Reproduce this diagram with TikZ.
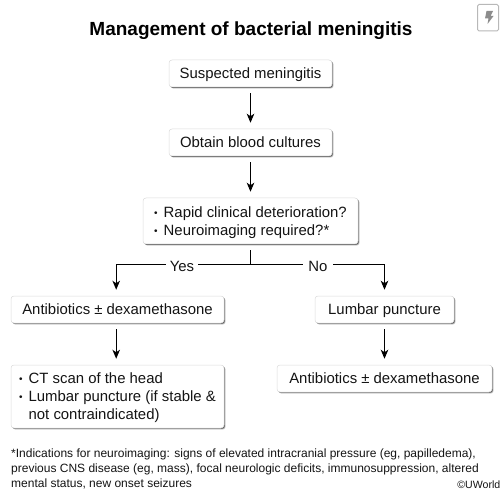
\documentclass[tikz,border=0pt]{standalone}
\usepackage{fontspec}
\setmainfont{Liberation Sans}
\usetikzlibrary{arrows.meta,shadows,calc}
\definecolor{txt}{gray}{0.08}
\tikzset{
  x=1pt,y=1pt,
  flowbox/.style={draw=black!14,line width=0.5pt,fill=white,rounded corners=3pt,inner sep=0pt,
    font=\fontsize{14.9}{18}\selectfont,text=txt,
    drop shadow={shadow xshift=1.7pt,shadow yshift=-1.7pt,opacity=0.14,fill=black},
    drop shadow={shadow xshift=1.2pt,shadow yshift=-1.2pt,opacity=0.28,fill=black},
    drop shadow={shadow xshift=0.7pt,shadow yshift=-0.7pt,opacity=0.45,fill=black}},
  oneline/.style={text height=11.7pt,text depth=2.1pt},
  flowarrow/.style={draw=black,line width=1pt,-{Stealth[length=9pt,width=7.5pt,inset=2.5pt]}},
  flowline/.style={draw=black,line width=1pt},
  branch/.style={fill=white,inner xsep=4pt,inner ysep=1pt,text height=10.7pt,text depth=0pt,font=\fontsize{14.9}{18}\selectfont,text=txt},
  note/.style={inner sep=0pt,anchor=north west,align=left,text=txt,font=\fontsize{12}{14.6}\selectfont},
}
\newcommand{\bul}{\makebox[9.5pt][l]{\raisebox{1pt}{\fontsize{10}{10}\selectfont •}}}
\newcommand{\lowerfirst}{\rule{0pt}{14pt}}
\begin{document}
\begin{tikzpicture}
\useasboundingbox[fill=white] (0,0) rectangle (503,-494);
\node[inner sep=0pt,font=\fontsize{19}{22}\selectfont\bfseries] (title) at (251,-31) {Management of bacterial meningitis};

\node[flowbox,oneline,minimum width=163pt,minimum height=27pt] (a) at (250.5,-73.5) {Suspected meningitis};
\node[flowbox,oneline,minimum width=163pt,minimum height=27pt] (b) at (250.5,-142.5) {Obtain blood cultures};
\node[flowbox,minimum width=215pt,minimum height=46pt,align=left] (c) at (250.5,-221)
  {\lowerfirst\bul Rapid clinical deterioration?\\\bul Neuroimaging required?*};
\node[flowbox,oneline,minimum width=213pt,minimum height=27pt] (d) at (117.5,-309.5) {Antibiotics ± dexamethasone};
\node[flowbox,oneline,minimum width=139pt,minimum height=27pt] (e) at (384.5,-309.5) {Lumbar puncture};
\node[flowbox,minimum width=213pt,minimum height=63pt,align=left] (f) at (117.5,-396.5)
  {\lowerfirst\bul CT scan of the head\\\bul Lumbar puncture (if stable \&\\\hspace*{9.5pt}not contraindicated)};
\node[flowbox,oneline,minimum width=215pt,minimum height=27pt] (g) at (384.5,-378.5) {Antibiotics ± dexamethasone};

\coordinate (split) at (250.5,-265);
\draw[flowarrow,shorten <=6pt,shorten >=6pt] (a) -- (b);
\draw[flowarrow,shorten <=6pt,shorten >=6pt] (b) -- (c);
\draw[flowline,shorten <=6pt] (c) -- (split);
\draw[flowarrow,shorten >=6pt] (split) -| ([xshift=-1.3pt]d.north);
\draw[flowarrow,shorten >=6pt] (split) -| (e.north);
\node[branch] (yes) at (182,-266) {Yes};
\node[branch,inner xsep=5.5pt] (no) at (318,-266) {No};
\draw[flowarrow,shorten <=6pt,shorten >=6pt] ([xshift=-1.3pt]d.south) -- ([xshift=-1.3pt]f.north);
\draw[flowarrow,shorten <=6pt,shorten >=6pt] (e) -- (e |- g.north);

\node[note] (fn) at (11,-449) {*Indications for neuroimaging: signs of elevated intracranial pressure (eg, papilledema),\\
previous CNS disease (eg, mass), focal neurologic deficits, immunosuppression, altered\\
mental status, new onset seizures};
\node[inner sep=0pt,anchor=east,font=\fontsize{10.6}{12}\selectfont,text=txt] (uw) at (500.5,-484.5) {©UWorld};

\draw[draw=black!28,fill=white,line width=1pt,rounded corners=1.5pt] (477.5,-4.5) rectangle (498.5,-31);
\fill[black!45] (486.5,-11) -- (493,-11) -- (490.5,-16) -- (493.5,-16) -- (487.5,-24) -- (488.5,-18.5) -- (485,-18.5) -- cycle;
\end{tikzpicture}
\end{document}
